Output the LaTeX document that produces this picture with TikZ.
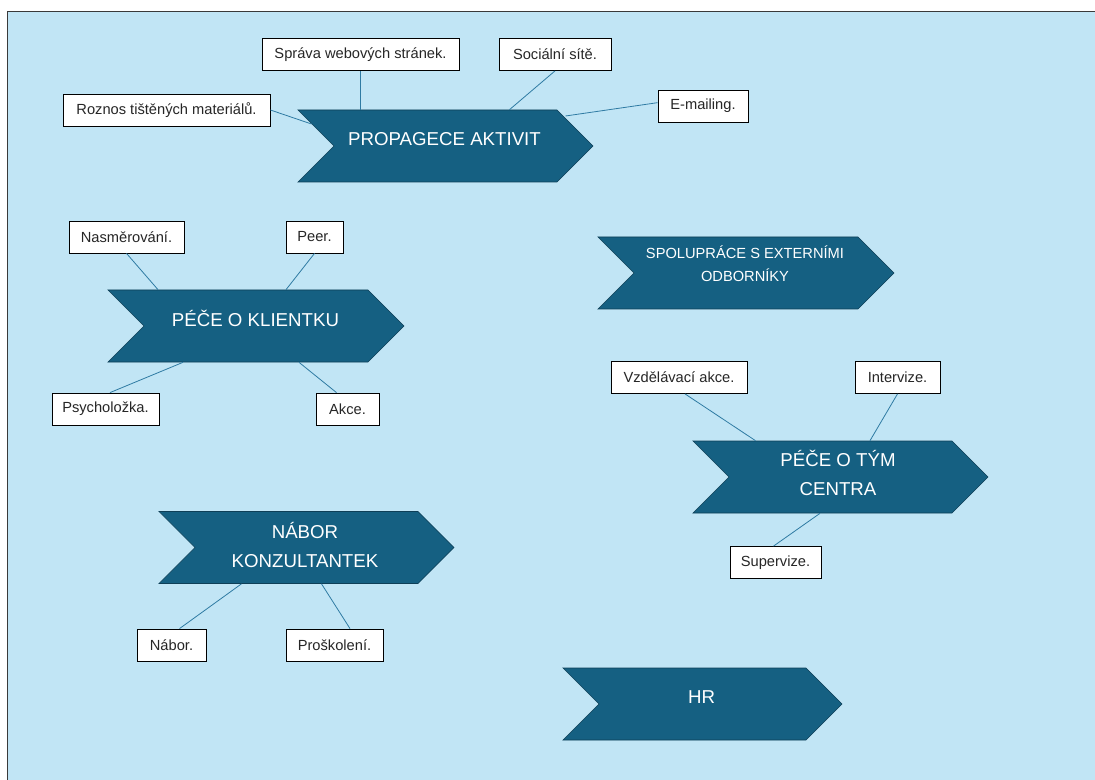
\documentclass[tikz,border=0pt]{standalone}
\usepackage{fontspec}
\setmainfont{Liberation Sans}
\usepackage{tikz}
\usetikzlibrary{shapes.symbols, calc}
\definecolor{bgblue}{HTML}{C1E5F5}
\definecolor{chevfill}{HTML}{156082}
\definecolor{chevline}{HTML}{0E3F57}
\definecolor{linkblue}{HTML}{2F7BA3}
\definecolor{framegray}{HTML}{3A3A3A}
\tikzset{
	chevron/.style={signal, signal from=west, signal to=east, signal pointer angle=90, inner sep=0pt, minimum height=54pt, fill=chevfill, draw=chevline, line width=0.5pt},
	chevtext/.style={text=white, font=\fontsize{14}{21.75}\selectfont, align=center, inner sep=0pt},
	chevline1/.style={chevtext, text height=10pt, text depth=0pt},
	itembox/.style={rectangle, draw=black, fill=white, line width=0.6pt, minimum height=24pt, inner sep=0pt, text=black!85, font=\fontsize{11}{13}\selectfont},
	linkline/.style={draw=linkblue, line width=0.6pt}
}

\begin{document}
\begin{tikzpicture}[x=0.75pt, y=-0.75pt]
		\useasboundingbox (0,0) rectangle (1095,780);
		
		% Background
		\fill[bgblue] (7,12) rectangle (1095,780);
		\draw[framegray, line width=0.75pt] (7,780) -- (7,12) -- (1095,12);
		
		% Chevrons
		\node (prop) [chevron, minimum width=221.25pt] at (445.5,146) {};
		\node (spol) [chevron, minimum width=222pt] at (746,273) {};
		\node (klient) [chevron, minimum width=222pt] at (256,326) {};
		\node (tym) [chevron, minimum width=221.25pt] at (840.5,477) {};
		\node (nabor) [chevron, minimum width=221.25pt] at (306.5,547.5) {};
		\node (hr) [chevron, minimum width=209.25pt] at (702.5,704) {};
		
		\node (propT) [chevline1] at (444.5,139) {PROPAGECE AKTIVIT};
		\node (spolT) [chevtext, font=\fontsize{11}{17.25}\selectfont] at (745,264) {SPOLUPRÁCE S EXTERNÍMI\\ODBORNÍKY};
		\node (klientT) [chevline1] at (255.5,319.5) {PÉČE O KLIENTKU};
		\node (tymT) [chevtext] at (838,472.7) {PÉČE O TÝM\\CENTRA};
		\node (naborT) [chevtext] at (305,544.5) {NÁBOR\\KONZULTANTEK};
		\node (hrT) [chevline1] at (701.7,696.7) {HR};
		
		% Boxes
		\node (spr) [itembox, minimum width=147.75pt] at (360.5,54.5) {Správa webových stránek.};
		\node (roz) [itembox, minimum width=155.25pt] at (166.5,110) {Roznos tištěných materiálů.};
		\node (soc) [itembox, minimum width=84pt] at (555,54.5) {Sociální sítě.};
		\node (ema) [itembox, minimum width=67.5pt] at (703,106) {E-mailing.};
		\node (nas) [itembox, minimum width=86.25pt] at (126.5,237) {Nasměrování.};
		\node (peer) [itembox, minimum width=42.75pt] at (314.5,237) {Peer.};
		\node (psy) [itembox, minimum width=80.25pt] at (105.5,409) {Psycholožka.};
		\node (akce) [itembox, minimum width=47.25pt] at (347.5,409) {Akce.};
		\node (vzd) [itembox, minimum width=102pt] at (679,377.5) {Vzdělávací akce.};
		\node (intv) [itembox, minimum width=63.75pt] at (897.5,377.5) {Intervize.};
		\node (sup) [itembox, minimum width=68.25pt] at (775.5,562.5) {Supervize.};
		\node (nab) [itembox, minimum width=51.75pt] at (171.5,645) {Nábor.};
		\node (pro) [itembox, minimum width=72.75pt] at (334.5,645) {Proškolení.};
		
		% Lines
		\draw [linkline] (spr.south) -- (spr.south |- prop.north);
		\draw [linkline] (soc.south) -- ($(prop.north)+(64,0)$);
		\draw [linkline] (roz.east) -- ($(prop.center)+(-134,-22)$);
		\draw [linkline] ([yshift=2.5pt]ema.west) -- ($(prop.center)+(120,-30)$);
		\draw [linkline] (nas.south) -- ($(klient.north)+(-98,0)$);
		\draw [linkline] (peer.south) -- ($(klient.north)+(30,0)$);
		\draw [linkline] ($(psy.north)+(4.5,0)$) -- ($(klient.south)+(-73,0)$);
		\draw [linkline] ($(akce.north)+(-11,0)$) -- ($(klient.south)+(43,0)$);
		\draw [linkline] ($(vzd.south)+(6,0)$) -- ($(tym.north)+(-85,0)$);
		\draw [linkline] (intv.south) -- ($(tym.north)+(29.5,0)$);
		\draw [linkline] ($(sup.north)+(-2,0)$) -- ($(tym.south)+(-20.5,0)$);
		\draw [linkline] ($(nab.north)+(8,0)$) -- ($(nabor.south)+(-65,0)$);
		\draw [linkline] ($(pro.north)+(15.5,0)$) -- ($(nabor.south)+(15,0)$);
		
	\end{tikzpicture}
\end{document}
